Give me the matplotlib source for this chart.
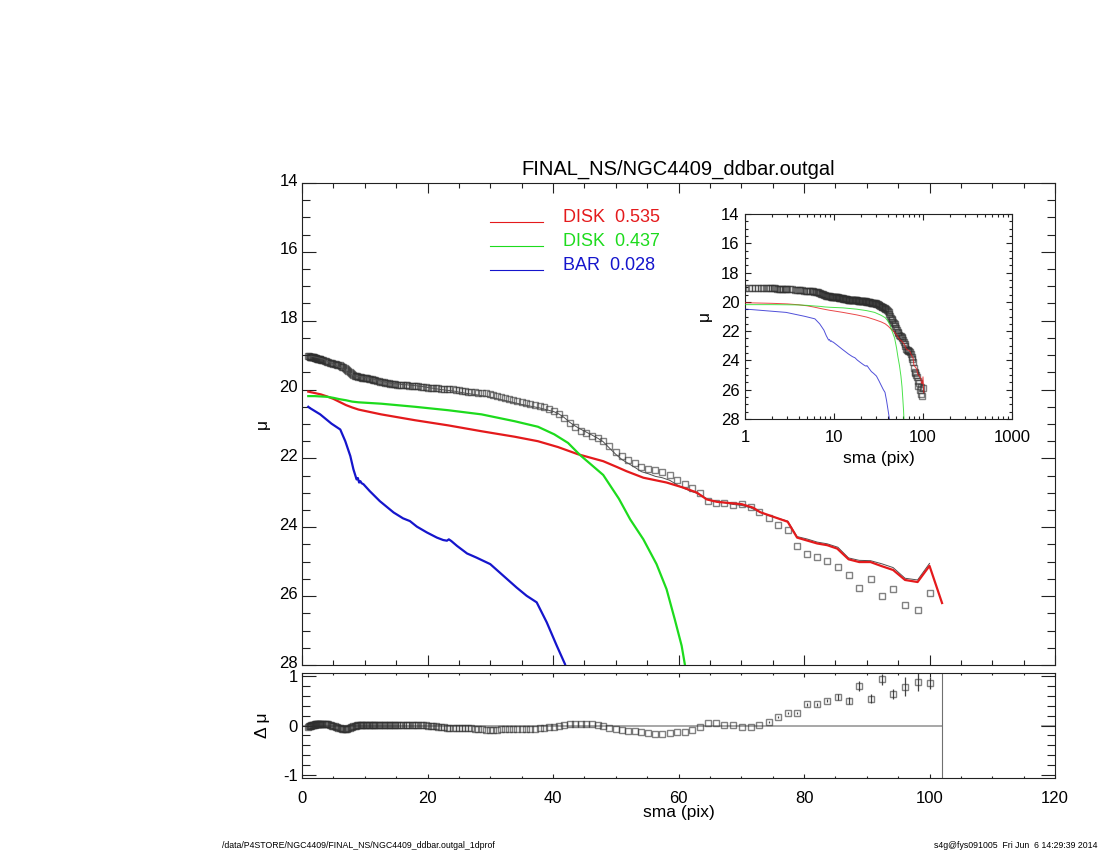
import matplotlib
matplotlib.use('Agg')
import matplotlib.pyplot as plt
from matplotlib.ticker import MultipleLocator, FixedLocator, LogLocator, NullFormatter, FixedFormatter
from matplotlib.transforms import ScaledTranslation
import numpy as np

# ---------------- data ----------------
sma = [1.0, 1.1, 1.2, 1.3, 1.4, 1.5, 1.6, 1.7, 1.8, 1.9, 2.0, 2.1, 2.2, 2.3, 2.4, 2.5, 2.6, 2.7, 2.8,
       2.9, 3.0, 3.2, 3.4, 3.6, 3.8, 4.0, 4.2, 4.4, 4.6, 4.8,
       5.0, 5.2, 5.4, 5.6, 5.8, 6.0, 6.2, 6.4, 6.6, 6.8, 7.0, 7.2, 7.4, 7.6, 7.8, 8.0, 8.2, 8.4, 8.6, 8.8,
       9.0, 9.2, 9.4, 9.6, 9.8,
       10.0, 10.2, 10.4, 10.6, 10.8, 11.1, 11.3, 11.5, 11.7, 12.0, 12.2, 12.5, 12.7, 13.0, 13.2, 13.5,
       13.8, 14.0, 14.3, 14.6, 14.9, 15.2, 15.5, 15.8, 16.1, 16.5, 16.8, 17.1, 17.5, 17.8, 18.2, 18.5,
       18.9, 19.3, 19.7, 20.1, 20.5, 20.9, 21.3, 21.7, 22.2, 22.6, 23.1, 23.5, 24.0, 24.5, 25.0, 25.5,
       26.0, 26.5, 27.0, 27.6, 28.1, 28.7, 29.3, 29.9, 30.5, 31.1, 31.7, 32.3, 33.0, 33.6, 34.3, 35.0,
       35.7, 36.4, 37.1, 37.9, 38.6, 39.4, 40.2, 41.0, 41.8, 42.7, 43.5, 44.4, 45.3, 46.2, 47.1, 48.0,
       49.0, 50.0, 51.0, 52.0, 53.0, 54.1, 55.2, 56.3, 57.4, 58.6, 59.8, 61.0, 62.2, 63.4, 64.7, 66.0,
       67.3, 68.7, 70.1, 71.5, 72.9, 74.4, 75.9, 77.4, 78.9, 80.5, 82.1, 83.7, 85.4, 87.1, 88.8, 90.6,
       92.4, 94.2, 96.1, 98.1, 100.0]

mu = [19.03, 19.035, 19.04, 19.045, 19.05, 19.05, 19.05, 19.055, 19.06, 19.065, 19.07, 19.075, 19.08,
      19.09, 19.10, 19.105, 19.11, 19.115, 19.12, 19.125, 19.13,
      19.14, 19.15, 19.17, 19.18, 19.20, 19.21, 19.22, 19.23, 19.24, 19.25, 19.26, 19.27, 19.28, 19.29,
      19.30, 19.31, 19.33, 19.35, 19.37, 19.40, 19.43, 19.46, 19.49, 19.52, 19.55, 19.58, 19.60, 19.61,
      19.62, 19.63, 19.64, 19.64, 19.65, 19.65,
      19.66, 19.67, 19.67, 19.68, 19.69, 19.70, 19.71, 19.72, 19.73, 19.75, 19.76, 19.77, 19.78, 19.79,
      19.80, 19.81, 19.82, 19.83, 19.84, 19.85, 19.85, 19.86, 19.86, 19.87, 19.87, 19.88, 19.88, 19.89,
      19.89, 19.90, 19.90, 19.91, 19.92, 19.92, 19.93, 19.94, 19.95, 19.95, 19.96, 19.96, 19.97, 19.97,
      19.98, 19.98, 19.99, 20.00, 20.02, 20.03, 20.05, 20.06, 20.07, 20.08, 20.09, 20.10, 20.11, 20.13,
      20.15, 20.18, 20.21, 20.24, 20.27, 20.30, 20.33, 20.36, 20.38, 20.41, 20.44, 20.48, 20.52, 20.57,
      20.62, 20.70, 20.82, 20.98, 21.09, 21.19, 21.27, 21.35, 21.42, 21.50, 21.65, 21.80, 21.94, 22.04,
      22.14, 22.26, 22.30, 22.34, 22.38, 22.48, 22.63, 22.75, 22.87, 23.01, 23.25, 23.30, 23.30, 23.35,
      23.33, 23.40, 23.57, 23.74, 23.92, 24.08, 24.53, 24.77, 24.86, 24.98, 25.15, 25.39, 25.75, 25.51,
      25.99, 25.80, 26.26, 26.40, 25.91]

dmu = [-0.03, -0.02, -0.01, -0.005, 0.0, 0.005, 0.01, 0.012, 0.015, 0.018, 0.02, 0.022, 0.025, 0.028,
       0.03, 0.032, 0.033, 0.034, 0.035, 0.035, 0.036,
       0.036, 0.036, 0.035,
       0.034, 0.03, 0.025, 0.02, 0.01, 0.0, -0.01, -0.02, -0.03, -0.04, -0.05, -0.055, -0.06, -0.065,
       -0.07, -0.07, -0.07, -0.068, -0.06, -0.05, -0.04, -0.03, -0.02, -0.01, 0.0, 0.008, 0.012, 0.015,
       0.016, 0.016, 0.016,
       0.016, 0.016, 0.017, 0.017, 0.018, 0.018, 0.018, 0.019, 0.019, 0.02,
       0.02, 0.02, 0.02, 0.02, 0.02, 0.02, 0.02, 0.02, 0.02, 0.02,
       0.02, 0.02, 0.02, 0.02, 0.02, 0.019, 0.018, 0.017, 0.016, 0.015,
       0.013, 0.011, 0.009, 0.006, 0.003,
       0.0, -0.005, -0.01, -0.018, -0.025, -0.032, -0.038, -0.043, -0.047, -0.05,
       -0.052, -0.054, -0.055, -0.055, -0.056, -0.06, -0.066, -0.072, -0.078, -0.085,
       -0.095, -0.09, -0.085, -0.08, -0.077, -0.073, -0.07, -0.07, -0.072, -0.075,
       -0.072, -0.065, -0.055, -0.048, -0.038, -0.025, -0.015, 0.005, 0.025, 0.035,
       0.04, 0.035, 0.03, 0.01, -0.015, -0.05, -0.08, -0.095, -0.105, -0.115,
       -0.125, -0.145, -0.18, -0.18, -0.155, -0.14, -0.13, -0.095, -0.035, 0.055,
       0.055, 0.014, 0.014, -0.035, -0.035, 0.014, 0.08, 0.18, 0.26, 0.26,
       0.43, 0.43, 0.50, 0.57, 0.50, 0.79, 0.54, 0.93, 0.63, 0.78,
       0.87, 0.86]

# error bars of the outermost 16 isophotes
dmu_err_outer = [0.02, 0.02, 0.02, 0.02, 0.03, 0.03, 0.03, 0.06, 0.07, 0.10, 0.09, 0.11, 0.10, 0.19,
                 0.18, 0.12]

sma_disk1 = [1.0, 2.0, 3.0, 4.0, 5.0, 6.0, 7.0, 8.0, 9.0, 9.5, 12.6, 18.0, 23.3, 28.6, 33.9, 37.6,
             40.8, 44.0, 48.0, 50.2, 51.7, 54.4, 58.1, 60.8, 62.9, 64.5, 66.1, 70.1, 71.9, 73.0, 77.4,
             78.9, 80.4, 82.1, 83.7, 85.3, 87.1, 88.8, 90.6, 92.4, 94.2, 96.1, 98.1, 100.0, 102.0]
mu_disk1 = [20.06, 20.10, 20.14, 20.20, 20.27, 20.36, 20.45, 20.52, 20.58, 20.60, 20.72, 20.89, 21.04,
            21.21, 21.37, 21.50, 21.67, 21.88, 22.08, 22.25, 22.37, 22.56, 22.70, 22.85, 22.99, 23.19,
            23.26, 23.33, 23.43, 23.56, 23.84, 24.30, 24.38, 24.47, 24.52, 24.62, 24.93, 25.01, 25.01,
            25.13, 25.24, 25.53, 25.59, 25.12, 26.20]

sma_disk2 = [1.0, 2.0, 3.0, 4.0, 5.0, 6.0, 7.0, 8.0, 9.0, 12.6, 18.0, 23.3, 28.6, 33.9, 37.6, 40.2,
             42.4, 44.3, 48.0, 50.5, 52.3, 54.4, 56.5, 58.1, 59.4, 60.5, 61.0, 61.5]
mu_disk2 = [20.19, 20.19, 20.20, 20.21, 20.24, 20.28, 20.31, 20.35, 20.37, 20.41, 20.50, 20.60, 20.72,
            20.92, 21.08, 21.30, 21.55, 21.90, 22.48, 23.17, 23.77, 24.35, 25.07, 25.80, 26.67, 27.44,
            27.97, 28.6]

sma_bar = [1.0, 1.2, 2.9, 4.7, 6.1, 6.9, 7.7, 8.2, 8.7, 8.9, 9.1, 9.3, 9.5, 9.8, 10.8, 12.4, 14.6,
           16.1, 17.2, 18.3, 19.9, 21.5, 22.5, 23.1, 23.4, 23.8, 24.7, 26.3, 27.8, 30.0, 32.1, 34.2,
           35.8, 37.4, 39.0, 40.6, 41.9, 42.5]
mu_bar = [20.50, 20.53, 20.72, 20.99, 21.16, 21.50, 21.93, 22.32, 22.61, 22.57, 22.70, 22.66, 22.72,
          22.75, 22.95, 23.24, 23.57, 23.74, 23.82, 23.98, 24.15, 24.30, 24.37, 24.39, 24.35, 24.40,
          24.54, 24.76, 24.88, 25.07, 25.41, 25.75, 25.99, 26.18, 26.76, 27.44, 27.97, 28.3]

comp_names = ['DISK', 'DISK', 'BAR']
comp_fracs = [0.535, 0.437, 0.028]

main_xticks = [0, 20, 40, 60, 80, 100, 120]
main_yticks = [14, 16, 18, 20, 22, 24, 26, 28]
resid_yticks = [-1, 0, 1]
resid_yticklabels = ['-1', '0', '1']
inset_xticks = [1, 10, 100, 1000]
inset_xticklabels = ['1', '10', '100', '1000']

title = 'FINAL_NS/NGC4409_ddbar.outgal'
footer_left = '/data/P4STORE/NGC4409/FINAL_NS/NGC4409_ddbar.outgal_1dprof'
footer_right = 's4g@fys091005  Fri Jun  6 14:29:39 2014'

# ---------------- style ----------------
plt.rcParams['font.family'] = ['Liberation Sans', 'DejaVu Sans']
RED = '#e41a1c'
GREEN = '#1ddb1d'
BLUE = '#1515cc'
FRAME = '#222222'

W, H = 1100, 850
fig = plt.figure(figsize=(11, 8.5), dpi=100)


def box(l, t, r, b):
    return [l / W, 1 - b / H, (r - l) / W, (b - t) / H]


def style(a, xmaj, xmin, ymaj, ymin, xpad, ypad, fs=12):
    for s in a.spines.values():
        s.set_color(FRAME)
        s.set_linewidth(0.8)
    a.tick_params(which='both', direction='in', top=True, right=True, colors=FRAME, width=0.8,
                  labelsize=fs, labelcolor='black')
    a.xaxis.set_tick_params(which='major', length=xmaj, pad=xpad)
    a.xaxis.set_tick_params(which='minor', length=xmin)
    a.yaxis.set_tick_params(which='major', length=ymaj, pad=ypad)
    a.yaxis.set_tick_params(which='minor', length=ymin)


ax = fig.add_axes(box(302, 183, 1055, 665))
axr = fig.add_axes(box(302, 672.7, 1055, 778.3))
axi = fig.add_axes(box(745, 214, 1012, 419))

sma_a = np.array(sma)
mu_a = np.array(mu)
dmu_a = np.array(dmu)
model = mu_a - dmu_a

mk = dict(marker='s', ls='none', ms=3.7, mfc='none', mec='#2e2e2e', mew=1.0, alpha=0.6)

# ---- main panel ----
ax.plot(sma_a, mu_a, zorder=2, **mk)
ax.plot(sma_a, model, color='#505050', lw=0.7, zorder=3)
ax.plot(sma_disk1, mu_disk1, color=RED, lw=1.6, zorder=4)
ax.plot(sma_disk2, mu_disk2, color=GREEN, lw=1.6, zorder=4)
ax.plot(sma_bar, mu_bar, color=BLUE, lw=1.6, zorder=4)
ax.set_xlim(0, 120)
ax.set_ylim(28, 14)
ax.xaxis.set_major_locator(FixedLocator(main_xticks))
ax.xaxis.set_minor_locator(MultipleLocator(5))
ax.yaxis.set_major_locator(FixedLocator(main_yticks))
ax.yaxis.set_minor_locator(MultipleLocator(0.5))
ax.set_xticklabels([])
style(ax, 7.2, 3.6, 10, 5.8, 9, 3)
for lab in ax.get_yticklabels():
    lab.set_transform(lab.get_transform() + ScaledTranslation(0, 2.5 / 72, fig.dpi_scale_trans))

cols = [RED, GREEN, BLUE]
leg_y = [0.9185, 0.8687, 0.8195]
for name, fr, c, yy in zip(comp_names, comp_fracs, cols, leg_y):
    ax.plot([0.2497, 0.32], [yy, yy], color=c, lw=0.8, transform=ax.transAxes)
    ax.text(0.3466, yy, f'{name}  {fr:.3f}', color=c, fontsize=13, ha='left', va='baseline',
            transform=ax.transAxes)

# ---- residual panel ----
axr.plot([0, 102], [0, 0], color='#a0a0a0', lw=1.3, zorder=1)
axr.plot([118, 120], [0, 0], color='#a0a0a0', lw=1.3, zorder=1)
axr.axvline(102, color='#707070', lw=0.8, zorder=1)
n_err = len(dmu_err_outer)
axr.errorbar(sma_a[-n_err:], dmu_a[-n_err:], yerr=dmu_err_outer, fmt='none', ecolor='#444444',
             elinewidth=0.9, capsize=0, zorder=2)
axr.plot(sma_a, dmu_a, zorder=3, **mk)
axr.set_xlim(0, 120)
axr.set_ylim(-1.06, 1.06)
axr.xaxis.set_major_locator(FixedLocator(main_xticks))
axr.xaxis.set_minor_locator(MultipleLocator(5))
axr.yaxis.set_major_locator(FixedLocator(resid_yticks))
axr.yaxis.set_major_formatter(FixedFormatter(resid_yticklabels))
axr.yaxis.set_minor_locator(MultipleLocator(0.2))
style(axr, 3.0, 1.5, 10, 5.8, 9, 3)

# ---- inset ----
axi.plot(sma_a, mu_a, zorder=2, **dict(mk, ms=4.2))
axi.plot(sma_disk1, mu_disk1, color=RED, lw=0.7, alpha=0.8, zorder=3)
axi.plot(sma_disk2, mu_disk2, color=GREEN, lw=0.7, alpha=0.8, zorder=3)
axi.plot(sma_bar, mu_bar, color=BLUE, lw=0.7, alpha=0.75, zorder=3)
axi.set_xscale('log')
axi.set_xlim(1, 1000)
axi.set_ylim(28, 14)
axi.xaxis.set_major_locator(FixedLocator(inset_xticks))
axi.xaxis.set_major_formatter(FixedFormatter(inset_xticklabels))
axi.xaxis.set_minor_locator(LogLocator(base=10, subs=np.arange(2, 10)))
axi.xaxis.set_minor_formatter(NullFormatter())
axi.yaxis.set_major_locator(FixedLocator(main_yticks))
axi.yaxis.set_minor_locator(MultipleLocator(0.5))
style(axi, 4.5, 2.4, 4.5, 2.4, 8, 4)

# ---- text ----
fig.text(678.5 / W, 1 - 175 / H, title, ha='center', va='baseline', fontsize=14.5)
fig.text(678.5 / W, 1 - 812 / H, 'sma (pix)', ha='center', va='center', fontsize=12.5)
fig.text(262 / W, 1 - 424 / H, 'μ', ha='center', va='center', rotation=90, fontsize=12.5)
fig.text(262 / W, 1 - 725.5 / H, 'Δ μ', ha='center', va='center', rotation=90, fontsize=12.5)
fig.text(878.5 / W, 1 - 458 / H, 'sma (pix)', ha='center', va='center', fontsize=12.5)
fig.text(704 / W, 1 - 316 / H, 'μ', ha='center', va='center', rotation=90, fontsize=12.5)
fig.text(222 / W, 1 - 846 / H, footer_left, ha='left', va='center', fontsize=6.3)
fig.text(1097 / W, 1 - 846 / H, footer_right, ha='right', va='center', fontsize=6.3)

fig.savefig('out.png', dpi=100)
